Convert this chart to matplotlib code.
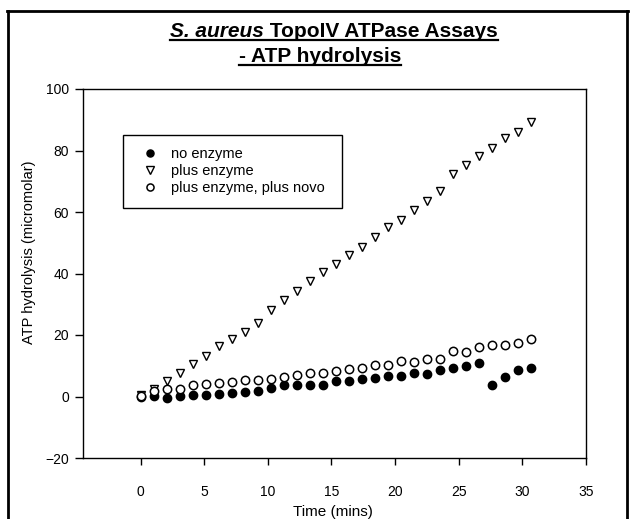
import matplotlib
matplotlib.use("Agg")
import matplotlib.pyplot as plt
from matplotlib.lines import Line2D
from matplotlib.patches import Rectangle

plt.rcParams['font.family'] = ['Liberation Sans', 'DejaVu Sans']

# ---- data ----
time_min = [0, 1.02, 2.04, 3.07, 4.09, 5.11, 6.13, 7.15, 8.18, 9.2, 10.22,
            11.24, 12.27, 13.29, 14.31, 15.33, 16.35, 17.38, 18.4, 19.42, 20.44,
            21.46, 22.49, 23.51, 24.53, 25.55, 26.58, 27.6, 28.62, 29.64, 30.66]
no_enzyme = [0, 0.1, -0.4, 0.1, 0.4, 0.4, 0.9, 1.2, 1.5, 1.9, 2.8,
             3.6, 3.7, 3.9, 3.8, 4.9, 5.2, 5.8, 6.1, 6.6, 6.7,
             7.7, 7.4, 8.5, 9.3, 9.8, 10.9, 3.7, 6.4, 8.5, 9.3]
plus_enzyme = [0.5, 2.5, 5.0, 7.7, 10.6, 13.3, 16.3, 18.8, 20.9, 23.9, 28.2,
               31.3, 34.2, 37.4, 40.4, 43.2, 46.0, 48.6, 51.8, 55.0, 57.5,
               60.7, 63.7, 66.9, 72.4, 75.3, 78.2, 80.8, 84.0, 85.9, 89.4]
plus_novo = [0.3, 1.9, 2.3, 2.5, 3.9, 4.2, 4.4, 4.7, 5.3, 5.3, 5.8,
             6.3, 6.9, 7.7, 7.7, 8.4, 9.0, 9.3, 10.1, 10.4, 11.7,
             11.1, 12.3, 12.3, 14.7, 14.5, 16.0, 16.6, 16.9, 17.4, 18.8]
series_labels = ["no enzyme", "plus enzyme", "plus enzyme, plus novo"]
x_ticks = [0, 5, 10, 15, 20, 25, 30, 35]
y_ticks = [-20, 0, 20, 40, 60, 80, 100]

W, H = 635, 519
fig = plt.figure(figsize=(W / 100, H / 100), dpi=100)
fig.patch.set_facecolor('white')

def fx(px):
    return px / W

def fy(py):
    return 1 - py / H

ax = fig.add_axes([fx(82.7), fy(458), (586 - 82.7) / W, (458 - 89) / H])
ax.set_xlim(-4.55, 35)
ax.set_ylim(-20, 100)

ms = 6
h1, = ax.plot(time_min, no_enzyme, 'o', ms=ms, mfc='black', mec='black', mew=1, zorder=3)
h2, = ax.plot(time_min, plus_enzyme, 'v', ms=ms, mfc='white', mec='black', mew=1, zorder=4)
h3, = ax.plot(time_min, plus_novo, 'o', ms=ms, mfc='white', mec='black', mew=1.1, zorder=5)

ax.set_xticks(x_ticks)
ax.set_yticks(y_ticks)
ax.tick_params(axis='both', direction='out', width=1, color='black', labelsize=10,
               top=False, right=False)
ax.tick_params(axis='x', length=5, pad=14.5)
ax.tick_params(axis='y', length=6, pad=4)
for s in ax.spines.values():
    s.set_linewidth(1)
    s.set_color('black')

ax.set_xlabel("Time (mins)", fontsize=11)
ax.set_ylabel("ATP hydrolysis (micromolar)", fontsize=10.5)
ax.xaxis.label.set_va('center')
ax.yaxis.label.set_va('center')
ax.xaxis.set_label_coords((333 - 82.7) / 503.3, (458 - 512) / 369)
ax.yaxis.set_label_coords((29 - 82.7) / 503.3, (458 - 252) / 369)

# legend
leg = ax.legend([h1, h2, h3], series_labels, frameon=False, fontsize=10.5,
                loc='center left', bbox_to_anchor=(fx(141), fy(171)),
                bbox_transform=fig.transFigure, handlelength=1.3, handletextpad=0.75,
                labelspacing=0.22, markerscale=0.85, borderpad=0, borderaxespad=0)
fig.add_artist(Rectangle((fx(122.7), fy(208.3)), (342.3 - 122.7) / W, (208.3 - 135) / H,
                         transform=fig.transFigure, fill=False, ec='black', lw=1))

# outer frame
frame_kw = dict(transform=fig.transFigure, color='black', lw=2)
fig.add_artist(Line2D([fx(8), fx(8)], [fy(11), fy(525)], **frame_kw))
fig.add_artist(Line2D([fx(7), fx(628)], [fy(11), fy(11)], **frame_kw))
fig.add_artist(Line2D([fx(627), fx(627)], [fy(11), fy(525)], **frame_kw))

# title with underline
fs_t = 15
t1a = fig.text(0, fy(37), "S. aureus", fontsize=fs_t, fontweight='bold', style='italic',
               ha='left', va='baseline')
t1b = fig.text(0, fy(37), " TopoIV ATPase Assays", fontsize=fs_t, fontweight='bold',
               ha='left', va='baseline')
t2 = fig.text(0, fy(62), "- ATP hydrolysis", fontsize=fs_t, fontweight='bold',
              ha='left', va='baseline')
fig.canvas.draw()
r = fig.canvas.get_renderer()
wa = t1a.get_window_extent(r).width
wb = t1b.get_window_extent(r).width
w2 = t2.get_window_extent(r).width
left1 = 334 - (wa + wb) / 2
t1a.set_x(fx(left1))
t1b.set_x(fx(left1 + wa))
left2 = 320 - w2 / 2
t2.set_x(fx(left2))
ul_kw = dict(transform=fig.transFigure, color='black', lw=1.6)
fig.add_artist(Line2D([fx(left1), fx(left1 + wa + wb)], [fy(39.5), fy(39.5)], **ul_kw))
fig.add_artist(Line2D([fx(left2), fx(left2 + w2)], [fy(64.5), fy(64.5)], **ul_kw))

fig.savefig("out.png", dpi=100)
